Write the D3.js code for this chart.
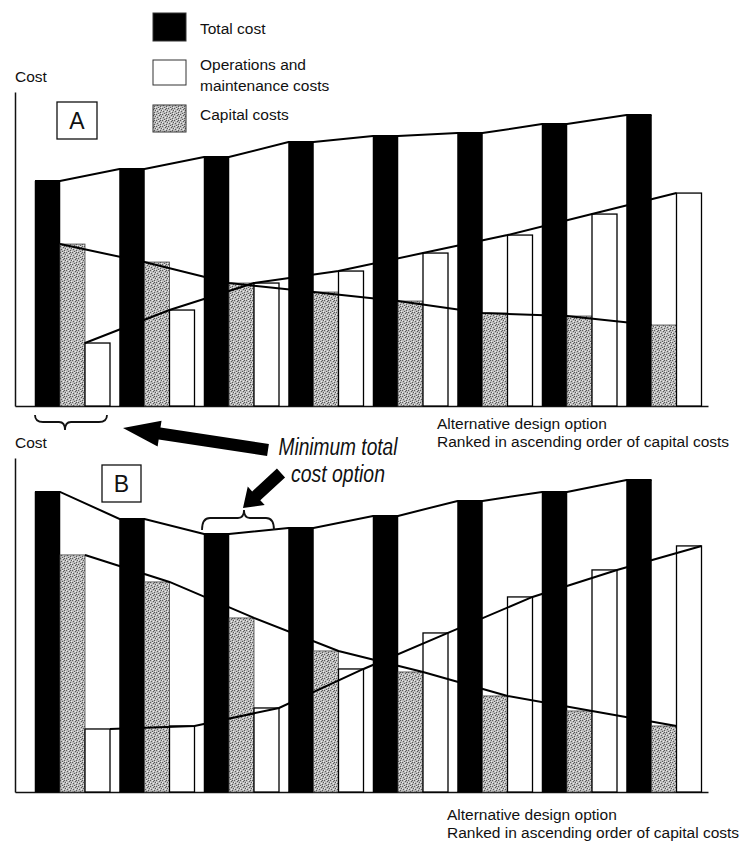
<!DOCTYPE html>
<html><head><meta charset="utf-8">
<script src="https://cdn.jsdelivr.net/npm/d3@7"></script>
<style>
html,body{margin:0;padding:0;background:#fff;}
svg{display:block;}
text{font-family:"Liberation Sans",Arial,Helvetica,sans-serif;fill:#111;}
</style>
</head><body><script>
// ---- data (arbitrary cost units) ----
const options = ["1","2","3","4","5","6","7","8"];
const seriesKeys = ["total","capital","om"];
const legendLabels = [["Total cost"],["Operations and","maintenance costs"],["Capital costs"]];
const totalA   = [75,79,83,88,90,91,94,97];
const capitalA = [54,48,41,38,35,31,30,27];
const omA      = [21,32,41,45,51,57,64,71];
const totalB   = [100,91,86,88,92,97,100,104];
const capitalB = [79,70,58,47,40,32,27,22];
const omB      = [21,22,28,41,53,65,74,82];
const axisLabel = "Cost";
const xLabelLines = ["Alternative design option","Ranked in ascending order of capital costs"];
const annotationLines = ["Minimum total","cost option"];
const panelNames = ["A","B"];

// ---- drawing ----
const W = 742, H = 852;
const svg = d3.select("body").append("svg").attr("width",W).attr("height",H);
svg.append("rect").attr("width",W).attr("height",H).attr("fill","#fff");

const defs = svg.append("defs");
const pat = defs.append("pattern").attr("id","stipple").attr("width",6).attr("height",6)
  .attr("patternUnits","userSpaceOnUse");
pat.append("rect").attr("width",6).attr("height",6).attr("fill","#bcbcbc");
[[0,0],[3,1],[1,3],[4,4],[5,2],[2,5],[4,0]].forEach(([a,b])=>pat.append("rect").attr("x",a).attr("y",b).attr("width",1).attr("height",1).attr("fill","#5a5a5a"));
[[2,0],[5,5],[0,2],[3,3]].forEach(([a,b])=>pat.append("rect").attr("x",a).attr("y",b).attr("width",1).attr("height",1).attr("fill","#eeeeee"));

const x = d3.scaleBand().domain(options).range([35, 701.5]).paddingInner(9.5/84.5).paddingOuter(0);
const xs = d3.scaleBand().domain(seriesKeys).range([0, x.bandwidth()]);
const bw = xs.bandwidth();

const panels = [
  {name:panelNames[0], total:totalA, capital:capitalA, om:omA,
   y:d3.scaleLinear().domain([0,104.7]).range([406,92]), side:"left",
   costY:82, box:[57,102,40,37], xlab:[437,429]},
  {name:panelNames[1], total:totalB, capital:capitalB, om:omB,
   y:d3.scaleLinear().domain([0,111.3]).range([792,458]), side:"right",
   costY:448, box:[102,465,39,37], xlab:[447,820]}
];

const fills = {total:"#000", capital:"url(#stipple)", om:"#fff"};
const strokes = {total:"#000", capital:"#444", om:"#000"};
const strokeW = {total:0.5, capital:0.8, om:1.3};

panels.forEach(p=>{
  const g = svg.append("g");
  const base = p.y(0);
  // axes
  g.append("g").attr("transform","translate(15,0)")
    .call(d3.axisLeft(p.y).ticks(0).tickSizeOuter(0))
    .select(".domain").attr("stroke","#111").attr("stroke-width",1.5);
  g.append("g").attr("transform",`translate(0,${base})`)
    .call(d3.axisBottom(d3.scaleLinear().range([15,708])).ticks(0).tickSizeOuter(0))
    .select(".domain").attr("stroke","#111").attr("stroke-width",1.5);
  g.append("text").attr("x",15).attr("y",p.costY).attr("font-size",15.5).text(axisLabel);

  // bars
  seriesKeys.forEach(k=>{
    g.selectAll(null).data(options).enter().append("rect")
      .attr("x",(d)=>x(d)+xs(k))
      .attr("y",(d,i)=>p.y(p[k][i]))
      .attr("width",bw)
      .attr("height",(d,i)=>base-p.y(p[k][i]))
      .attr("fill",fills[k]).attr("stroke",strokes[k]).attr("stroke-width",strokeW[k]);
  });

  // connecting lines
  const line = d3.line();
  const totPts = [];
  options.forEach((d,i)=>{const x0=x(d)+xs("total"); totPts.push([x0,p.y(p.total[i])],[x0+bw,p.y(p.total[i])]);});
  g.append("path").attr("d",line(totPts)).attr("fill","none").attr("stroke","#000").attr("stroke-width",2);
  ["capital","om"].forEach(k=>{
    const pts = options.map((d,i)=>[x(d)+xs(k)+(p.side==="left"?0:bw), p.y(p[k][i])]);
    g.append("path").attr("d",line(pts)).attr("fill","none").attr("stroke","#000").attr("stroke-width",2);
  });

  // panel box label
  g.append("rect").attr("x",p.box[0]).attr("y",p.box[1]).attr("width",p.box[2]).attr("height",p.box[3])
    .attr("fill","#fff").attr("stroke","#111").attr("stroke-width",1.3);
  g.append("text").attr("x",p.box[0]+p.box[2]/2).attr("y",p.box[1]+p.box[3]/2+8.5)
    .attr("text-anchor","middle").attr("font-size",23).text(p.name);

  // x label
  xLabelLines.forEach((t,j)=>g.append("text").attr("x",p.xlab[0]).attr("y",p.xlab[1]+j*17.5)
    .attr("font-size",15.5).text(t));
});

// legend
const legY = [13,60,105], legH=[28,25,27];
const legFill = ["#000","#fff","url(#stipple)"];
legendLabels.forEach((lines,i)=>{
  svg.append("rect").attr("x",153).attr("y",legY[i]).attr("width",33).attr("height",legH[i])
    .attr("fill",legFill[i]).attr("stroke","#333").attr("stroke-width",1);
});
const legText = [[34],[70,91],[120]];
legendLabels.forEach((lines,i)=>lines.forEach((t,j)=>
  svg.append("text").attr("x",200).attr("y",legText[i][j]).attr("font-size",15.5).text(t)));

// braces
function brace(x0,x1,tipX,yEnd,yMid,yTip){
  return `M${x0},${yEnd} Q${x0},${yMid} ${x0+8},${yMid} L${tipX-6},${yMid} Q${tipX},${yMid} ${tipX},${yTip} `+
         `Q${tipX},${yMid} ${tipX+6},${yMid} L${x1-8},${yMid} Q${x1},${yMid} ${x1},${yEnd}`;
}
const g1 = x(options[0]), g3 = x(options[2]);
svg.append("path").attr("d",brace(g1, g1+72, g1+30, 415, 422, 430))
  .attr("fill","none").attr("stroke","#111").attr("stroke-width",1.8);
svg.append("path").attr("d",brace(g3-2, g3+70, g3+40, 530, 518, 510))
  .attr("fill","none").attr("stroke","#111").attr("stroke-width",1.8);

// arrows
function arrow(tail,tip,sw,hw,hl){
  const dx=tip[0]-tail[0], dy=tip[1]-tail[1], L=Math.hypot(dx,dy);
  const ux=dx/L, uy=dy/L, nx=-uy, ny=ux;
  const bx=tip[0]-ux*hl, by=tip[1]-uy*hl;
  const P=(a,b)=>[a,b];
  return [P(tail[0]+nx*sw/2,tail[1]+ny*sw/2),P(bx+nx*sw/2,by+ny*sw/2),P(bx+nx*hw/2,by+ny*hw/2),
          P(tip[0],tip[1]),P(bx-nx*hw/2,by-ny*hw/2),P(bx-nx*sw/2,by-ny*sw/2),P(tail[0]-nx*sw/2,tail[1]-ny*sw/2)];
}
svg.append("polygon").attr("points",arrow([268,450],[123,428],12,26,37).join(" ")).attr("fill","#000");
svg.append("polygon").attr("points",arrow([281,473],[243,508],12,25,18).join(" ")).attr("fill","#000");

// annotation
const annW=[119,94];
annotationLines.forEach((t,j)=>svg.append("text").attr("x",338).attr("y",455+j*27)
  .attr("text-anchor","middle").attr("font-size",23).attr("font-style","italic")
  .attr("textLength",annW[j]).attr("lengthAdjust","spacingAndGlyphs").text(t));
</script></body></html>
